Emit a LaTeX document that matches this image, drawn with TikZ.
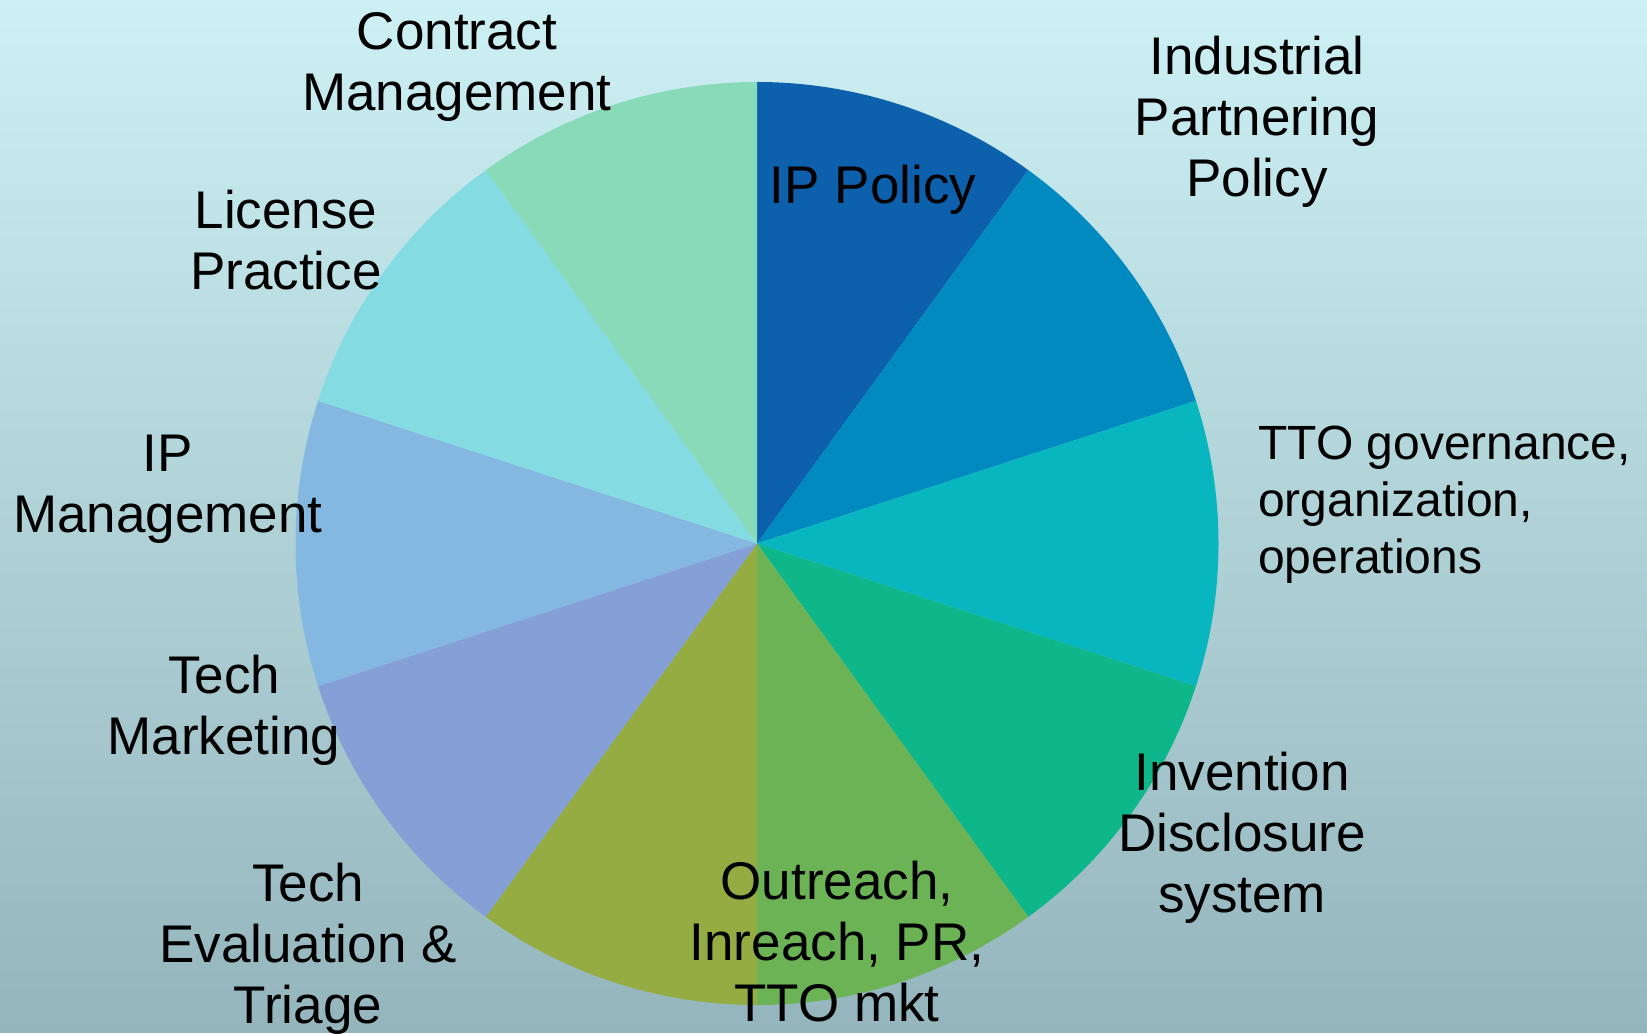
\documentclass[tikz,border=0pt]{standalone}
\usepackage{fontspec}
\setmainfont{Liberation Sans}
\definecolor{bgtop}{HTML}{CCF0F3}
\definecolor{bgbottom}{HTML}{94B5BC}
\definecolor{ippolicy}{HTML}{0C60AC}
\definecolor{partnering}{HTML}{008AC0}
\definecolor{governance}{HTML}{08B6C0}
\definecolor{disclosure}{HTML}{0EB78A}
\definecolor{outreach}{HTML}{6CB356}
\definecolor{evaluation}{HTML}{94AC42}
\definecolor{marketing}{HTML}{85A0D6}
\definecolor{ipmanage}{HTML}{84B8E0}
\definecolor{license}{HTML}{84DBE2}
\definecolor{contract}{HTML}{88DAB8}

\begin{document}
\begin{tikzpicture}[x=1pt,y=1pt,
    label node/.style={inner sep=0pt,align=center,font=\fontsize{53}{61}\selectfont},
    side node/.style={inner sep=0pt,align=left,anchor=west,font=\fontsize{48}{57}\selectfont}]
    % background
    \shade[top color=bgtop,bottom color=bgbottom] (0,0) rectangle (1647,1032);
    \coordinate (c) at (757,488.5);
    % slices
    \foreach \a/\col in {54/ippolicy,18/partnering,-18/governance,-54/disclosure,-90/outreach,
                         -126/evaluation,-162/marketing,162/ipmanage,126/license,90/contract}
        \fill[\col] (c) -- ++(\a:461.5) arc[start angle=\a,delta angle=36,radius=461.5] -- cycle;

    \node[label node] (ip) at (873,842) {IP Policy};
    \node[label node] (part) at (1257,910) {Industrial\\Partnering\\Policy};
    \node[side node] (gov) at (1258,527) {TTO governance,\\organization,\\operations};
    \node[label node] (disc) at (1242,194) {Invention\\Disclosure\\system};
    \node[label node] (out) at (837,90) {Outreach,\\Inreach, PR,\\TTO mkt};
    \node[label node] (eval) at (308,83) {Tech\\Evaluation \&\\Triage};
    \node[label node] (mkt) at (224,322) {Tech\\Marketing};
    \node[label node] (ipm) at (168,543) {IP\\Management};
    \node[label node] (lic) at (286,792) {License\\Practice};
    \node[label node] (con) at (457,965) {Contract\\Management};
\end{tikzpicture}
\end{document}
